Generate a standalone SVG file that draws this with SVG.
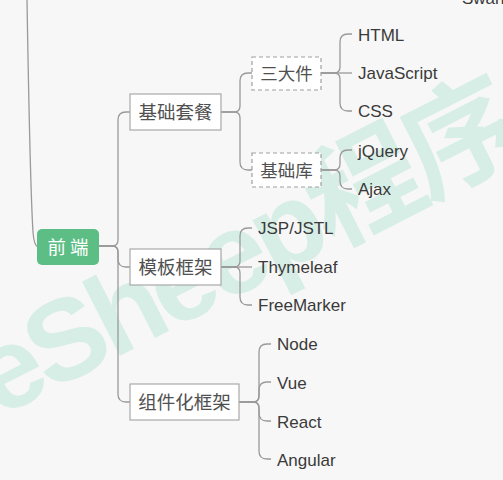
<svg xmlns="http://www.w3.org/2000/svg" width="503" height="480" viewBox="0 0 503 480">
<style>
.bg{fill:#f7f7f7}
.wm{font-family:"Liberation Sans","DejaVu Sans","Noto Sans CJK SC",sans-serif;font-weight:bold;font-size:115px;letter-spacing:-6px;fill:#d7eee7}
.con{fill:none;stroke:#9a9a9a;stroke-width:1.3}
.box{fill:#ffffff;stroke:#a9a9a9;stroke-width:1.2}
.dbox{fill:#ffffff;stroke:#a0a0a0;stroke-width:1.2;stroke-dasharray:4 3}
.root{fill:#5cbe85}
.rt{font-family:"Noto Sans CJK SC","Liberation Sans",sans-serif;font-size:18.5px;fill:#ffffff}
.nt{font-family:"Noto Sans CJK SC","Liberation Sans",sans-serif;font-size:18.5px;fill:#505050}
.dt{font-family:"Noto Sans CJK SC","Liberation Sans",sans-serif;font-size:17.5px;fill:#505050}
.lt{font-family:"Liberation Sans","Noto Sans",sans-serif;font-size:17px;fill:#3a3a3a}
</style>
<rect class="bg" x="0" y="0" width="503" height="480"/>
<text class="wm" x="-2" y="418" transform="rotate(-27 -2 418)">eSheep程序</text>
<text class="lt" x="462" y="4">Swan</text>

<g id="connectors">
  <path class="con" d="M27,0 C29,120 31,200 33,232 Q34,246 38,247"/>
  <path class="con" d="M99,246 H112 Q118,246 118,240 V120 Q118,112 126,112 H130"/>
  <path class="con" d="M99,246 H112 Q118,246 118,252 V259 Q118,267 126,267 H130"/>
  <path class="con" d="M99,246 H112 Q118,246 118,252 V394 Q118,402 126,402 H130"/>
  <path class="con" d="M221,112 H234 Q240,112 240,106 V81 Q240,73 248,73 H252"/>
  <path class="con" d="M221,112 H234 Q240,112 240,118 V162 Q240,170 248,170 H252"/>
  <path class="con" d="M321,73 H352"/>
  <path class="con" d="M321,73 H334 Q340,73 340,67 V42 Q340,34 348,34 H352"/>
  <path class="con" d="M321,73 H334 Q340,73 340,79 V103 Q340,111 348,111 H352"/>
  <path class="con" d="M321,170 H334 Q340,170 340,164 V158 Q340,150 348,150 H352"/>
  <path class="con" d="M321,170 H334 Q340,170 340,176 V181 Q340,189 348,189 H352"/>
  <path class="con" d="M221,267 H252"/>
  <path class="con" d="M221,267 H234 Q240,267 240,261 V236 Q240,228 248,228 H252"/>
  <path class="con" d="M221,267 H234 Q240,267 240,273 V297 Q240,305 248,305 H252"/>
  <path class="con" d="M239,402 H253 Q259,402 259,396 V352 Q259,344 267,344 H271"/>
  <path class="con" d="M239,402 H253 Q259,402 259,396 V390 Q259,382 267,382 H271"/>
  <path class="con" d="M239,402 H253 Q259,402 259,408 V413 Q259,421 267,421 H271"/>
  <path class="con" d="M239,402 H253 Q259,402 259,408 V451 Q259,459 267,459 H271"/>
</g>

<g id="root">
  <rect class="root" x="37" y="229" width="62" height="36" rx="5"/>
  <text class="rt" x="68" y="254" text-anchor="middle">前 端</text>
</g>

<g id="n-jichu">
  <rect class="box" x="130" y="94" width="91" height="36"/>
  <text class="nt" x="175.5" y="119" text-anchor="middle">基础套餐</text>
</g>
<g id="n-muban">
  <rect class="box" x="130" y="249" width="91" height="36"/>
  <text class="nt" x="175.5" y="274" text-anchor="middle">模板框架</text>
</g>
<g id="n-zujian">
  <rect class="box" x="130" y="384" width="109" height="36"/>
  <text class="nt" x="184.5" y="409" text-anchor="middle">组件化框架</text>
</g>

<g id="n-sandajian">
  <rect class="dbox" x="252" y="57" width="69" height="33"/>
  <text class="dt" x="286.5" y="80" text-anchor="middle">三大件</text>
</g>
<g id="n-jichuku">
  <rect class="dbox" x="252" y="153" width="69" height="34"/>
  <text class="dt" x="286.5" y="177" text-anchor="middle">基础库</text>
</g>

<g id="l-html"><text class="lt" x="358" y="40.5">HTML</text></g>
<g id="l-js"><text class="lt" x="358" y="79">JavaScript</text></g>
<g id="l-css"><text class="lt" x="358" y="117">CSS</text></g>
<g id="l-jquery"><text class="lt" x="358" y="157">jQuery</text></g>
<g id="l-ajax"><text class="lt" x="358" y="195">Ajax</text></g>
<g id="l-jsp"><text class="lt" x="258" y="234">JSP/JSTL</text></g>
<g id="l-thyme"><text class="lt" x="258" y="273">Thymeleaf</text></g>
<g id="l-free"><text class="lt" x="258" y="311">FreeMarker</text></g>
<g id="l-node"><text class="lt" x="277" y="350">Node</text></g>
<g id="l-vue"><text class="lt" x="277" y="388.5">Vue</text></g>
<g id="l-react"><text class="lt" x="277" y="427.5">React</text></g>
<g id="l-angular"><text class="lt" x="277" y="466">Angular</text></g>
</svg>
